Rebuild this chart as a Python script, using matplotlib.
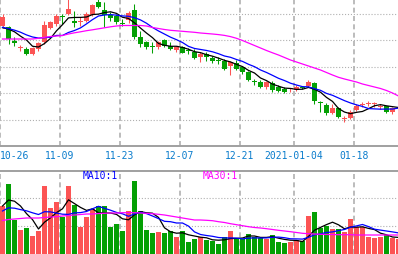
import numpy as np
import pandas as pd
import matplotlib
matplotlib.use('Agg')
import matplotlib.pyplot as plt

# Daily bars 2020-10-26 .. 2021-01-26
opens = [13.20, 13.19, 13.055, 12.977, 12.97, 12.92, 12.97, 13.04, 13.18, 13.22,
         13.293, 13.32, 13.25, 13.237, 13.25, 13.31, 13.44, 13.36, 13.31, 13.30,
         13.223, 13.26, 13.36, 13.09, 13.04, 12.993, 12.99, 13.06, 13.00, 12.96,
         12.99, 12.953, 12.94, 12.89, 12.92, 12.88, 12.865, 12.85, 12.80, 12.83,
         12.79, 12.74, 12.647, 12.64, 12.59, 12.635, 12.59, 12.575, 12.567, 12.56,
         12.583, 12.597, 12.63, 12.433, 12.41, 12.33, 12.377, 12.273, 12.277, 12.363,
         12.41, 12.423, 12.417, 12.393, 12.397, 12.343, 12.37]
highs = [13.32, 13.20, 13.09, 13.01, 12.99, 12.99, 13.04, 13.25, 13.25, 13.32,
         13.32, 13.47, 13.35, 13.29, 13.34, 13.42, 13.47, 13.44, 13.34, 13.32,
         13.27, 13.35, 13.42, 13.15, 13.05, 13.04, 13.05, 13.07, 13.04, 13.00,
         13.00, 12.98, 12.97, 12.94, 12.94, 12.90, 12.89, 12.87, 12.85, 12.86,
         12.80, 12.75, 12.67, 12.66, 12.65, 12.65, 12.61, 12.59, 12.58, 12.61,
         12.60, 12.66, 12.64, 12.453, 12.43, 12.42, 12.39, 12.303, 12.36, 12.42,
         12.443, 12.453, 12.437, 12.42, 12.403, 12.387, 12.40]
lows = [13.18, 13.02, 13.00, 12.95, 12.91, 12.91, 12.95, 13.02, 13.17, 13.20,
        13.22, 13.31, 13.19, 13.20, 13.24, 13.30, 13.38, 13.19, 13.25, 13.22,
        13.20, 13.23, 13.07, 12.99, 12.97, 12.93, 12.97, 12.99, 12.96, 12.94,
        12.93, 12.92, 12.87, 12.84, 12.85, 12.83, 12.82, 12.76, 12.71, 12.76,
        12.72, 12.65, 12.61, 12.58, 12.57, 12.54, 12.54, 12.53, 12.537, 12.55,
        12.57, 12.59, 12.42, 12.34, 12.31, 12.32, 12.28, 12.243, 12.27, 12.353,
        12.39, 12.397, 12.387, 12.37, 12.33, 12.32, 12.36]
closes = [13.29, 13.07, 13.035, 12.983, 12.92, 12.98, 13.03, 13.21, 13.24, 13.30,
          13.287, 13.37, 13.23, 13.243, 13.32, 13.41, 13.39, 13.31, 13.28, 13.24,
          13.217, 13.33, 13.09, 13.02, 12.99, 12.987, 13.04, 13.00, 12.97, 12.99,
          12.93, 12.947, 12.88, 12.92, 12.89, 12.853, 12.85, 12.77, 12.84, 12.77,
          12.74, 12.66, 12.64, 12.59, 12.64, 12.565, 12.555, 12.545, 12.573, 12.59,
          12.577, 12.643, 12.453, 12.427, 12.33, 12.377, 12.287, 12.277, 12.343, 12.40,
          12.42, 12.427, 12.423, 12.397, 12.343, 12.377, 12.385]
volumes = [48, 70, 34, 24, 26, 18, 23, 68, 46, 52,
           37, 68, 49, 27, 37, 45, 48, 48, 27, 30,
           23, 43, 73, 43, 24, 21, 22, 21, 23, 17,
           23, 12, 15, 17, 14, 13, 10, 17, 23, 15,
           15, 20, 17, 16, 15, 19, 12, 11, 12, 14,
           13, 38, 42, 26, 28, 25, 25, 22, 35, 27,
           27, 17, 16, 17, 19, 16, 15]

# the nine sessions before the first visible bar (needed for MA5 / MA10)
prior_closes = [13.20, 13.19, 13.19, 13.19, 13.185, 13.14, 13.17, 13.20, 13.115]
prior_volumes = [38, 38, 38, 38, 38, 40, 40, 48, 64]

# MA30 lines
ma30_price = [13.07, 13.07, 13.07, 13.07, 13.07, 13.07, 13.077, 13.087, 13.095, 13.10,
              13.105, 13.12, 13.132, 13.142, 13.153, 13.162, 13.172, 13.182, 13.192, 13.20,
              13.205, 13.205, 13.205, 13.205, 13.20, 13.185, 13.175, 13.165, 13.157, 13.152,
              13.147, 13.142, 13.137, 13.13, 13.125, 13.12, 13.114, 13.106, 13.094, 13.077,
              13.055, 13.03, 13.005, 12.98, 12.955, 12.932, 12.91, 12.885, 12.86, 12.84,
              12.82, 12.80, 12.78, 12.76, 12.735, 12.71, 12.687, 12.67, 12.655, 12.64,
              12.62, 12.605, 12.59, 12.575, 12.555, 12.53, 12.50]
ma30_volume = [33.5, 34.5, 35, 35.5, 36, 36, 36, 36.5, 37, 37.3,
               38, 38.5, 39, 39.5, 40, 40, 40.5, 40.7, 41, 41,
               41.3, 41.3, 41.3, 41, 40.7, 40.3, 39.7, 39, 38, 37,
               36, 35, 34, 34, 33.7, 33.3, 32.3, 31.5, 30.3, 29.3,
               28.3, 27.3, 26.5, 26, 25.3, 24.5, 23.7, 23, 22.3, 21.5,
               20.7, 20.3, 20, 19.7, 19.5, 19.5, 19.3, 19.3, 19.3, 19,
               19, 19, 19, 19, 19, 19, 19]

date_labels = ['10-26', '11-09', '11-23', '12-07', '12-21', '2021-01-04', '01-18']
date_index = [0, 10, 20, 30, 40, 49, 59]

RED = '#fc5454'
GREEN = '#04a004'
GRID = '#b0b0b0'
FONT = 'DejaVu Sans Mono'

opens = np.array(opens)
closes = np.array(closes)
x = np.arange(len(closes))
colors = np.where(closes >= opens, RED, GREEN)

c_all = pd.Series(prior_closes + list(closes))
v_all = pd.Series(prior_volumes + volumes)
n0 = len(prior_closes)
ma5 = c_all.rolling(5).mean().to_numpy()[n0:]
ma10 = c_all.rolling(10).mean().to_numpy()[n0:]
vma5 = v_all.rolling(5).mean().to_numpy()[n0:]
vma10 = v_all.rolling(10).mean().to_numpy()[n0:]

fig = plt.figure(figsize=(3.98, 2.55), dpi=100)
ax = fig.add_axes([0, 108 / 255, 1, 147 / 255])
axv = fig.add_axes([0, 0, 1, 83.3 / 255])

xlim = (-2.5 / 6, 395.5 / 6)
edges = [i - 2.5 / 6 for i in date_index]

# price panel
ax.vlines(x, lows, highs, colors=colors, lw=0.75)
body = np.maximum(np.abs(closes - opens), 0.01)
ax.bar(x, body, width=5 / 6, bottom=np.minimum(opens, closes), color=colors, linewidth=0)
ax.plot(x, ma5, color='black', lw=0.9)
ax.plot(x, ma10, color='#0000ff', lw=0.9)
ax.plot(x, ma30_price, color='#ff00ff', lw=0.9)
ax.set_xlim(xlim)
ax.set_ylim(12.0, 13.47)
ax.set_yticks([12.265, 12.53, 12.795, 13.06, 13.325])
ax.set_xticks(edges)
ax.set_xticklabels(date_labels)
ax.get_xticklabels()[0].set_ha('left')
ax.tick_params(axis='x', length=0, pad=3, labelsize=7, labelcolor='#0a7ccc')
ax.tick_params(axis='y', length=0, labelleft=False)
for lab in ax.get_xticklabels():
    lab.set_family(FONT)
ax.xaxis.grid(True, color=GRID, lw=1.2, ls=(0, (3, 2)))
ax.yaxis.grid(True, color=GRID, lw=0.8, ls=':')
ax.set_axisbelow(True)
for s in ['top', 'left', 'right']:
    ax.spines[s].set_visible(False)
ax.spines['bottom'].set_color('#a0a0a0')
ax.spines['bottom'].set_linewidth(1.4)

# volume panel
axv.bar(x, volumes, width=5 / 6, color=colors, linewidth=0)
axv.plot(x, vma5, color='black', lw=0.9)
axv.plot(x, vma10, color='#0000ff', lw=0.9)
axv.plot(x, ma30_volume, color='#ff00ff', lw=0.9)
axv.set_xlim(xlim)
axv.set_ylim(0, 83.3)
axv.set_yticks([28, 56])
axv.set_xticks(edges)
axv.tick_params(length=0, labelleft=False, labelbottom=False)
axv.xaxis.grid(True, color=GRID, lw=1.2, ls=(0, (3, 2)))
axv.yaxis.grid(True, color=GRID, lw=0.8, ls=':')
axv.set_axisbelow(True)
for s in ['bottom', 'left', 'right']:
    axv.spines[s].set_visible(False)
axv.spines['top'].set_color('#a0a0a0')
axv.spines['top'].set_linewidth(1.4)

fig.text(83 / 398, 1 - 176.5 / 255, 'MA10:1', color='#0000ff', fontsize=7,
         family=FONT, va='center')
fig.text(203 / 398, 1 - 176.5 / 255, 'MA30:1', color='#ff00ff', fontsize=7,
         family=FONT, va='center')

fig.savefig('out.png', dpi=100)
